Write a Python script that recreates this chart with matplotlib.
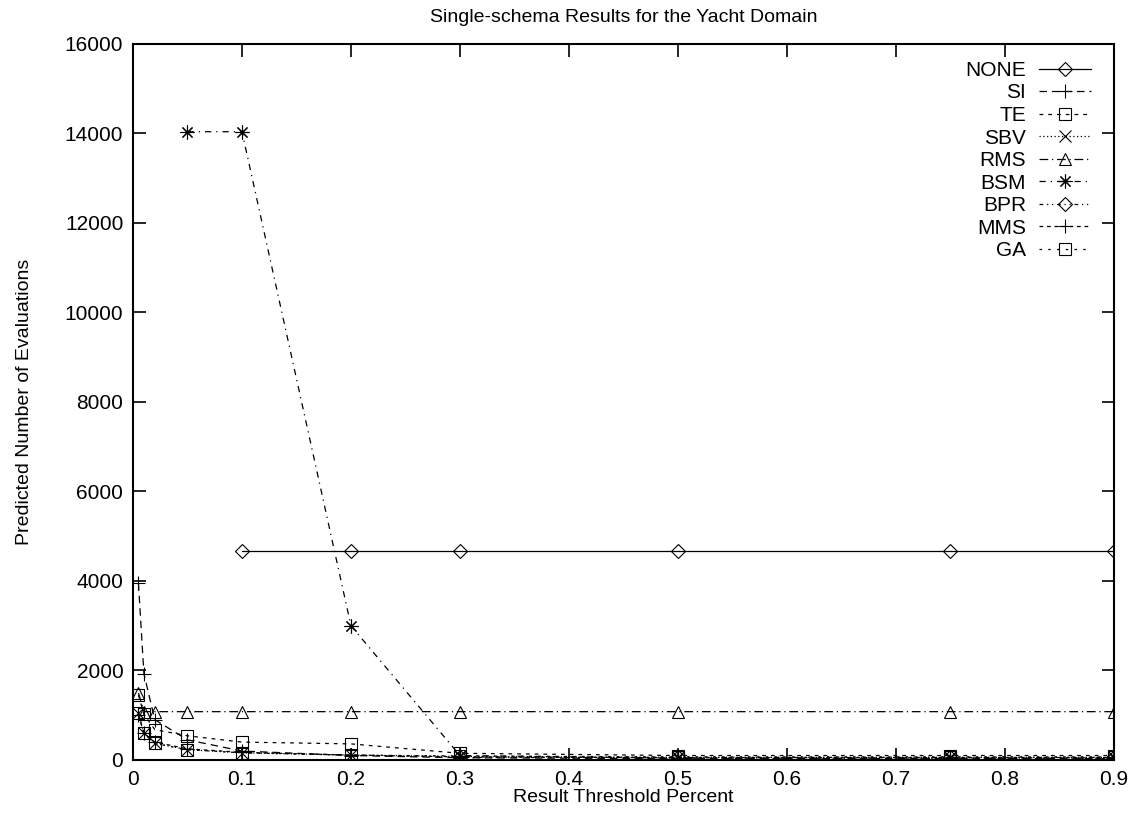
import numpy as np
import matplotlib
matplotlib.use('Agg')
import matplotlib.pyplot as plt

plt.rcParams['font.family'] = ['Liberation Sans', 'DejaVu Sans']

# threshold values (x axis)
x_all = [0.005, 0.01, 0.02, 0.05, 0.1, 0.2, 0.3, 0.5, 0.75, 0.9]
x_none = [0.1, 0.2, 0.3, 0.5, 0.75, 0.9]
x_bsm = [0.05, 0.1, 0.2, 0.3, 0.5, 0.75, 0.9]
x_bpr = [0.3, 0.5, 0.75, 0.9]

# predicted number of evaluations
none_vals = [4660, 4660, 4660, 4660, 4660, 4660]
si_vals = [3950, 1930, 900, 450, 200, 100, 50, 30, 30, 30]
te_vals = [1450, 1020, 680, 540, 400, 360, 150, 100, 100, 100]
sbv_vals = [1050, 600, 370, 230, 160, 110, 80, 60, 60, 60]
rms_vals = [1500, 1080, 1080, 1080, 1080, 1080, 1080, 1080, 1080, 1080]
bsm_vals = [14040, 14040, 3000, 100, 40, 40, 40]
bpr_vals = [70, 70, 70, 70]
mms_vals = [1000, 600, 400, 250, 170, 110, 70, 50, 50, 50]
ga_vals = [1050, 600, 370, 230, 160, 110, 90, 70, 70, 70]

xticks = [0, 0.1, 0.2, 0.3, 0.4, 0.5, 0.6, 0.7, 0.8, 0.9]
yticks = [0, 2000, 4000, 6000, 8000, 10000, 12000, 14000, 16000]

fig = plt.figure(figsize=(11.3, 8.13), dpi=100)
ax = fig.add_axes([0.1177, 0.0652, 0.868, 0.8807])

ms = 8
kw = dict(color='black', lw=0.9, mfc='none', mec='black', mew=0.8)
ax.plot(x_none, none_vals, ls='-', marker='D', ms=7, label='NONE', **kw)
ax.plot(x_all, si_vals, ls=(0, (6, 4)), marker='+', ms=10, label='SI', **kw)
ax.plot(x_all, te_vals, ls=(0, (3, 4)), marker='s', ms=ms, label='TE', **kw)
ax.plot(x_all, sbv_vals, ls=(0, (1, 2)), marker='x', ms=ms, label='SBV', **kw)
ax.plot(x_all, rms_vals, ls=(0, (7, 3, 1, 3)), marker='^', ms=ms, label='RMS', **kw)
ax.plot(x_bsm, bsm_vals, ls=(0, (5, 4, 1, 4)), marker=(8, 2, 0), ms=10, label='BSM', **kw)
ax.plot(x_bpr, bpr_vals, ls=(0, (3, 3, 1, 3, 1, 3)), marker='D', ms=7, label='BPR', **kw)
ax.plot(x_all, mms_vals, ls=(0, (3, 3)), marker='+', ms=10, label='MMS', **kw)
ax.plot(x_all, ga_vals, ls=(0, (2, 5)), marker='s', ms=ms, label='GA', **kw)

ax.set_xlim(0, 0.9)
ax.set_ylim(0, 16000)
ax.set_xticks(xticks)
ax.set_xticklabels(['0', '0.1', '0.2', '0.3', '0.4', '0.5', '0.6', '0.7', '0.8', '0.9'])
ax.set_yticks(yticks)
ax.tick_params(direction='in', length=9, width=1.2, labelsize=15, top=True, right=True, pad=7)
for s in ax.spines.values():
    s.set_linewidth(1.5)

ax.set_title('Single-schema Results for the Yacht Domain', fontsize=14, pad=16)
ax.set_xlabel('Result Threshold Percent', fontsize=14, labelpad=0)
ax.set_ylabel('Predicted Number of Evaluations', fontsize=14, labelpad=23)

leg = ax.legend(loc='upper right', frameon=False, markerfirst=False, fontsize=15,
                handlelength=2.5, labelspacing=0.17, handletextpad=0.6,
                bbox_to_anchor=(0.985, 0.988), borderaxespad=0)

fig.savefig('out.png', dpi=100)
